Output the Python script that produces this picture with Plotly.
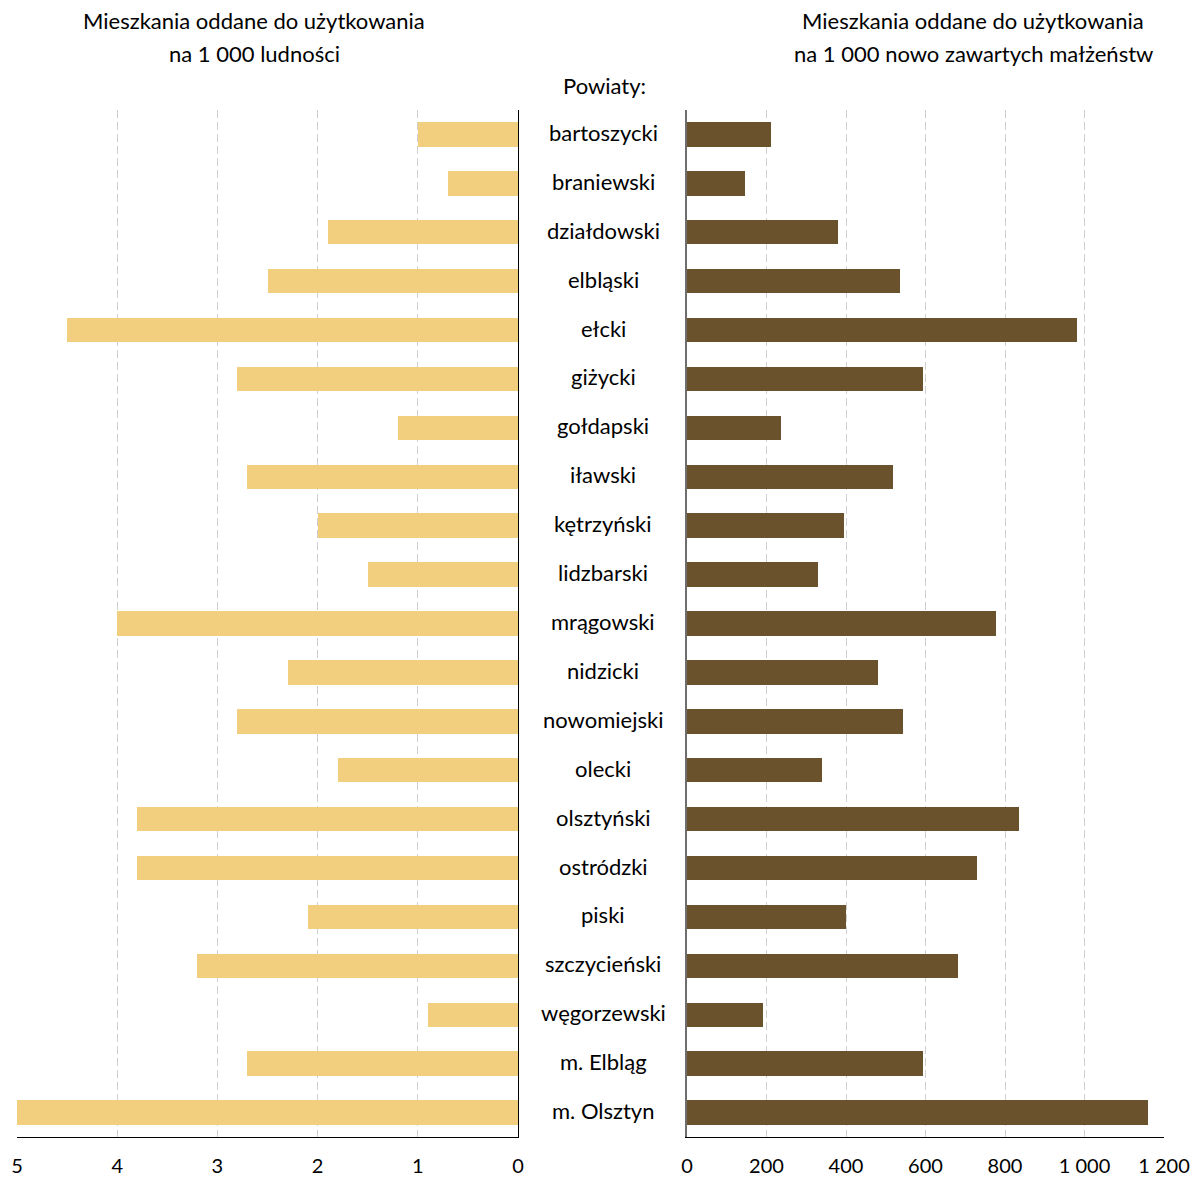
import plotly.graph_objects as go

# Powiaty (counties) and the two indicators
powiaty = [
    "bartoszycki", "braniewski", "działdowski", "elbląski", "ełcki", "giżycki",
    "gołdapski", "iławski", "kętrzyński", "lidzbarski", "mrągowski", "nidzicki",
    "nowomiejski", "olecki", "olsztyński", "ostródzki", "piski", "szczycieński",
    "węgorzewski", "m. Elbląg", "m. Olsztyn",
]
na_1000_ludnosci = [
    1.0, 0.7, 1.9, 2.5, 4.5, 2.8, 1.2, 2.7, 2.0, 1.5, 4.0, 2.3,
    2.8, 1.8, 3.8, 3.8, 2.1, 3.2, 0.9, 2.7, 5.0,
]
na_1000_malzenstw = [
    211, 146, 380, 536, 981, 594, 236, 518, 395, 330, 777, 480,
    543, 340, 835, 730, 400, 682, 191, 594, 1160,
]

left_ticks = [5, 4, 3, 2, 1, 0]
right_ticks = [0, 200, 400, 600, 800, 1000, 1200]
right_tick_text = ["0", "200", "400", "600", "800", "1 000", "1 200"]

W, H = 1195, 1177
FONT = "Lato"
GOLD = "#F2CF7E"
BROWN = "#6A532C"
GRID = "#CFCFCF"

pos = list(range(len(powiaty)))

fig = go.Figure()
fig.add_trace(go.Bar(
    x=na_1000_ludnosci, y=pos, orientation="h", width=0.5,
    marker=dict(color=GOLD, line=dict(width=0)),
    xaxis="x", yaxis="y", showlegend=False, hoverinfo="x",
))
fig.add_trace(go.Bar(
    x=na_1000_malzenstw, y=pos, orientation="h", width=0.5,
    marker=dict(color=BROWN, line=dict(width=0)),
    xaxis="x2", yaxis="y2", showlegend=False, hoverinfo="x",
))

y_dom = [1 - 1137 / H, 1 - 110 / H]
common_x = dict(
    showgrid=True, gridcolor=GRID, griddash="8px,4px", gridwidth=1,
    zeroline=False, showline=True, linecolor="#000000", linewidth=1,
    ticks="", tickfont=dict(family=FONT, size=20, color="#000000"),
    ticklabelstandoff=11, fixedrange=True, automargin=False,
)
common_y = dict(
    range=[len(powiaty) - 0.5, -0.5], showgrid=False, zeroline=False,
    showticklabels=False, ticks="", showline=True, linecolor="#000000",
    linewidth=1, domain=y_dom, fixedrange=True, automargin=False,
)

fig.update_layout(
    width=W, height=H,
    margin=dict(l=0, r=0, t=0, b=0, autoexpand=False),
    paper_bgcolor="white", plot_bgcolor="white",
    bargap=0,
    xaxis=dict(common_x, domain=[17 / W, 518 / W], range=[5, 0],
               tickvals=left_ticks, anchor="y"),
    yaxis=dict(common_y, anchor="x", side="right"),
    xaxis2=dict(common_x, domain=[687 / W, 1164 / W], range=[0, 1200],
                tickvals=right_ticks, ticktext=right_tick_text, anchor="y2"),
    yaxis2=dict(common_y, anchor="x2", side="left", linecolor="#6E6E6E",
                linewidth=1.5),
)

# County names between the two panels
for p, name in zip(pos, powiaty):
    fig.add_annotation(
        x=603 / W, xref="paper", y=p, yref="y", text=name, showarrow=False,
        xanchor="center", yanchor="middle", yshift=2,
        font=dict(family=FONT, size=22, color="#000000"),
    )

# Panel headings, one annotation per line
headings = [
    (254, 21, "Mieszkania oddane do użytkowania"),
    (254, 54, "na 1 000 ludności"),
    (973, 21, "Mieszkania oddane do użytkowania"),
    (973, 54, "na 1 000 nowo zawartych małżeństw"),
    (604, 86, "Powiaty:"),
]
for cx, cy, txt in headings:
    fig.add_annotation(
        x=cx / W, xref="paper", y=1 - cy / H, yref="paper", text=txt,
        showarrow=False, xanchor="center", yanchor="middle",
        font=dict(family=FONT, size=22, color="#000000"),
    )

fig.write_html("out.html")
